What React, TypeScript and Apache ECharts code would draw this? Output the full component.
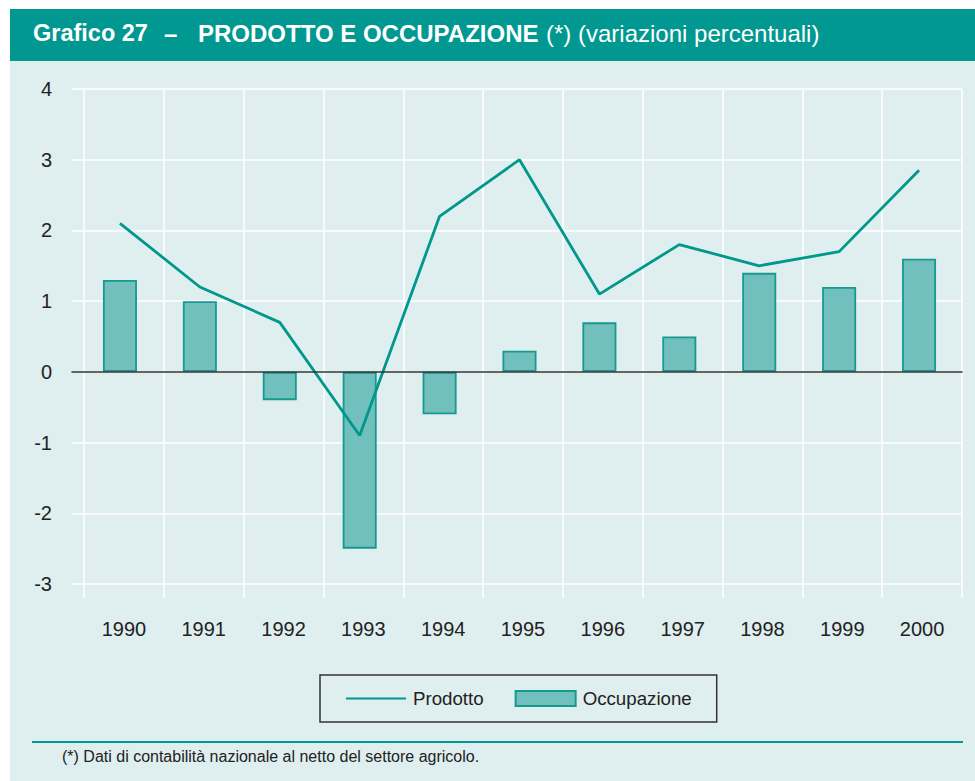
import React, { useEffect, useRef } from "react";
import * as echarts from "echarts";

const years = ["1990", "1991", "1992", "1993", "1994", "1995", "1996", "1997", "1998", "1999", "2000"];
const prodotto = [2.1, 1.2, 0.7, -0.9, 2.2, 3.0, 1.1, 1.8, 1.5, 1.7, 2.85];
const occupazione = [1.3, 1.0, -0.4, -2.5, -0.6, 0.3, 0.7, 0.5, 1.4, 1.2, 1.6];
const yMin = -3;
const yMax = 4;
const yStep = 1;

const FONT = "'Liberation Sans', Arial, Helvetica, sans-serif";
const TEAL = "#009890";
const LINE = "#00978c";
const BAR_FILL = "#72c0be";
const BAR_BORDER = "#16998f";
const BG = "#dfeeee";
const TXT = "#222222";

export default function App() {
  const ref = useRef<HTMLDivElement>(null);

  useEffect(() => {
    if (!ref.current) return;
    const chart = echarts.init(ref.current, undefined, { renderer: "svg" });
    // the lower grids extend further down (vertical lines) -> matching min so values align
    const unitPx = (781 - 197 - 89) / (yMax - yMin);
    const minB = yMax - (781 - 183 - 89) / unitPx;

    chart.setOption({
      animation: false,
      backgroundColor: "transparent",
      textStyle: { fontFamily: FONT },
      grid: [
        { left: 72, right: 13, top: 89, bottom: 197 },
        { left: 84, right: 13, top: 89, bottom: 183 },
        { left: 80, right: 16, top: 89, bottom: 183 },
      ],
      xAxis: [
        {
          gridIndex: 0,
          type: "category",
          data: years,
          z: 10,
          axisLine: { show: true, onZero: true, lineStyle: { color: "#333", width: 1.5 } },
          axisTick: { show: false },
          axisLabel: { show: false },
          splitLine: { show: false },
        },
        {
          gridIndex: 1,
          type: "category",
          data: years,
          axisLine: { show: false, onZero: false },
          axisTick: { show: false },
          axisLabel: { fontSize: 20, color: TXT, margin: 21, fontFamily: FONT },
          splitLine: { show: true, interval: 0, lineStyle: { color: "#ffffff", width: 1.5 } },
        },
        {
          gridIndex: 2,
          type: "category",
          data: years,
          show: false,
        },
      ],
      yAxis: [
        {
          gridIndex: 0,
          type: "value",
          min: yMin,
          max: yMax,
          interval: yStep,
          axisLine: { show: false },
          axisTick: { show: false },
          axisLabel: { fontSize: 20, color: TXT, margin: 20, fontFamily: FONT },
          splitLine: { show: true, lineStyle: { color: "#ffffff", width: 1.5 } },
        },
        { gridIndex: 1, type: "value", min: minB, max: yMax, show: false, splitLine: { show: false } },
        { gridIndex: 2, type: "value", min: minB, max: yMax, show: false, splitLine: { show: false } },
      ],
      legend: {
        left: 320,
        top: 675,
        padding: [14, 25, 14, 25],
        borderColor: "#333",
        borderWidth: 1.5,
        borderRadius: 0,
        itemWidth: 60,
        itemHeight: 15,
        itemGap: 31,
        textStyle: { fontSize: 18.7, color: TXT, fontFamily: FONT, padding: [0, 0, 0, 2] },
        data: [
          { name: "Prodotto", itemStyle: { opacity: 0 } },
          { name: "Occupazione", icon: "rect" },
        ],
      },
      series: [
        {
          name: "Occupazione",
          type: "bar",
          xAxisIndex: 2,
          yAxisIndex: 2,
          data: occupazione,
          barWidth: 34,
          itemStyle: { color: BAR_FILL, borderColor: BAR_BORDER, borderWidth: 1.8 },
        },
        {
          name: "Prodotto",
          type: "line",
          xAxisIndex: 2,
          yAxisIndex: 2,
          data: prodotto,
          symbol: "none",
          lineStyle: { color: LINE, width: 2.8 },
          itemStyle: { color: LINE },
          z: 5,
        },
      ],
      graphic: [
        {
          type: "text",
          left: 33,
          top: 21,
          style: { text: "Grafico 27", fill: "#ffffff", font: `bold 23.5px ${FONT}` },
        },
        {
          type: "text",
          left: 164,
          top: 21,
          style: { text: "–", fill: "#ffffff", font: `bold 24px ${FONT}` },
        },
        {
          type: "text",
          left: 198,
          top: 21,
          style: { text: "PRODOTTO E OCCUPAZIONE", fill: "#ffffff", font: `bold 24px ${FONT}` },
        },
        {
          type: "text",
          left: 546,
          top: 21,
          style: { text: "(*) (variazioni percentuali)", fill: "#ffffff", font: `24px ${FONT}` },
        },
        {
          type: "line",
          shape: { x1: 32, y1: 742, x2: 963, y2: 742 },
          style: { stroke: TEAL, lineWidth: 2 },
        },
        {
          type: "text",
          left: 62,
          top: 748,
          style: {
            text: "(*) Dati di contabilità nazionale al netto del settore agricolo.",
            fill: TXT,
            font: `16px ${FONT}`,
          },
        },
      ],
    });
    return () => chart.dispose();
  }, []);

  return (
    <div style={{ position: "fixed", left: 0, top: 0, width: 975, height: 781, background: "#ffffff" }}>
      <div style={{ position: "absolute", left: 10, top: 61, width: 965, height: 720, background: BG }} />
      <div style={{ position: "absolute", left: 10, top: 9, width: 965, height: 52, background: TEAL }} />
      <div ref={ref} style={{ position: "absolute", left: 0, top: 0, width: 975, height: 781 }} />
    </div>
  );
}
